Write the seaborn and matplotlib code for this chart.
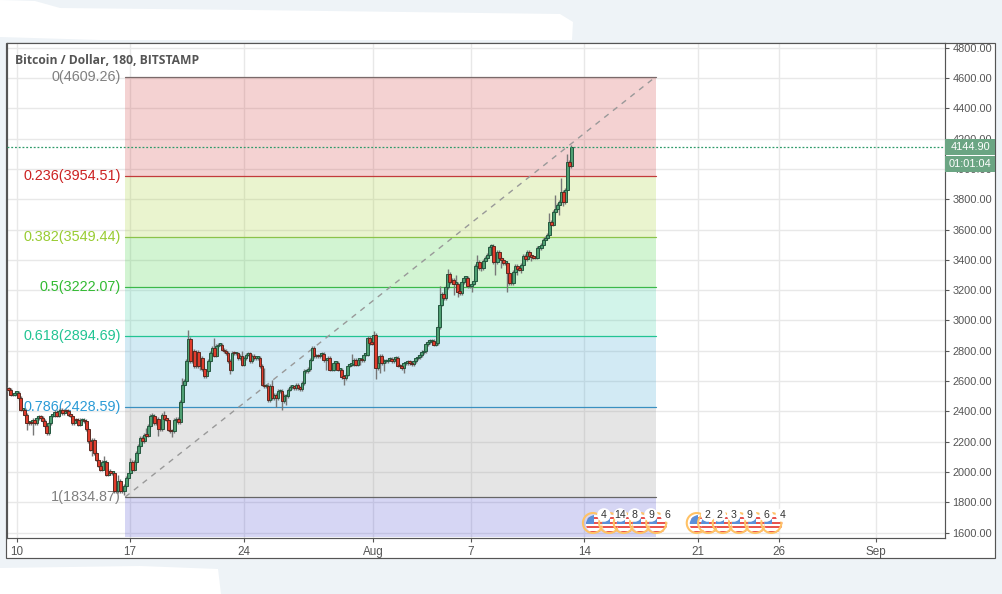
import matplotlib
matplotlib.use("Agg")
import matplotlib.pyplot as plt
from matplotlib.patches import Circle, Polygon, Rectangle
import pandas as pd
import seaborn as sns

# closes of the 3h candles
closes = [
    2544, 2548, 2544, 2511, 2511, 2522, 2522, 2489, 2412, 2412, 2379, 2324, 2324, 2320, 2346, 2320, 2357, 2361, 2357, 2335,
    2302, 2258, 2324, 2372, 2372, 2394, 2372, 2401, 2412, 2390, 2405, 2401, 2379, 2372, 2324, 2346, 2342, 2313, 2342, 2346,
    2335, 2284, 2203, 2148, 2214, 2126, 2082, 2042, 2016, 2064, 2064, 1983, 2005, 1994, 1994, 1873, 1873, 1939, 1873, 1873,
    1906, 1961, 1994, 2064, 2016, 2064, 2126, 2170, 2225, 2203, 2247, 2240, 2302, 2368, 2368, 2324, 2350, 2284, 2284, 2379,
    2350, 2346, 2280, 2269, 2269, 2342, 2350, 2328, 2460, 2577, 2599, 2731, 2878, 2731, 2797, 2698, 2790, 2698, 2753, 2680,
    2632, 2665, 2731, 2786, 2819, 2768, 2830, 2841, 2841, 2808, 2797, 2786, 2731, 2676, 2786, 2782, 2782, 2753, 2764, 2709,
    2753, 2775, 2782, 2731, 2764, 2753, 2753, 2753, 2698, 2577, 2566, 2566, 2474, 2566, 2489, 2511, 2489, 2533, 2533, 2467,
    2500, 2500, 2544, 2562, 2562, 2555, 2577,
    2555, 2548, 2588, 2665, 2665, 2680, 2742, 2819, 2764, 2768, 2764, 2775, 2779, 2737, 2737, 2753, 2676, 2676, 2720, 2720,
    2676, 2676, 2627, 2621, 2643, 2702, 2709, 2713, 2742, 2709, 2742, 2742, 2737, 2775, 2775, 2885, 2852, 2847, 2907, 2687,
    2720, 2764, 2720, 2731, 2731, 2742, 2746, 2731, 2746, 2753, 2702, 2698, 2687, 2716, 2720, 2724, 2720,
    2710, 2730, 2750, 2760, 2770, 2790, 2800,
    2845, 2858, 2863, 2863, 2841, 2852, 2957, 3105, 3177, 3149, 3221, 3307, 3252, 3270, 3243, 3243, 3188, 3182, 3254, 3281,
    3281, 3226, 3226, 3243, 3259, 3362, 3389, 3347, 3347, 3395, 3413, 3435, 3485, 3490, 3384, 3384, 3452, 3413, 3397, 3380,
    3380, 3314, 3248, 3248, 3318, 3362, 3340, 3336, 3369, 3428, 3406, 3452, 3424, 3419, 3415, 3415, 3479, 3479, 3501, 3534,
    3545, 3567, 3650, 3633, 3716, 3736, 3765, 3782, 3848, 3780, 3864, 4046, 4018, 4144.9,
]
first_open = 2540

# wicks that stick out visibly (candle number: price)
long_highs = {50: 2104, 57: 1983, 62: 1994, 63: 2093, 66: 2137, 71: 2291, 74: 2390, 80: 2401, 89: 2621, 92: 2940,
              105: 2885, 119: 2797, 130: 2687, 134: 2610, 174: 2781, 185: 2929, 218: 3226, 222: 3340, 226: 3303,
              231: 3296, 237: 3435, 243: 3490, 273: 3710, 276: 3826, 279: 3941, 282: 4101}
long_lows = {11: 2280, 14: 2247, 21: 2247, 44: 2104, 52: 1972, 60: 1851, 77: 2236, 84: 2232, 96: 2687, 98: 2676,
             100: 2621, 113: 2647, 136: 2430, 139: 2408, 141: 2445, 161: 2671, 165: 2665, 170: 2577, 178: 2709,
             186: 2614, 188: 2654, 190: 2665, 200: 2654, 225: 3171, 227: 3153, 234: 3188, 239: 3329, 246: 3303,
             249: 3347, 252: 3186, 257: 3298, 259: 3314, 264: 3391, 278: 3699, 280: 3754, 282: 3963}

fib_labels = ["0", "0.236", "0.382", "0.5", "0.618", "0.786", "1"]
fib_prices = [4609.26, 3954.51, 3549.44, 3222.07, 2894.69, 2428.59, 1834.87]
fib_colors = ["#808080", "#cc2222", "#99cc33", "#33bb33", "#22c493", "#2b9bd6", "#808080"]
fib_line_colors = ["#7a6a6a", "#c23b3b", "#8bc34a", "#3cb84a", "#22c493", "#3a90c0", "#666666"]
band_colors = ["#cc2222", "#99cc11", "#22cc22", "#22cc99", "#2299cc", "#808080", "#3333cc"]

tick_days = [10, 17, 24, 32, 38, 45, 52, 57, 63]
tick_labels = ["10", "17", "24", "Aug", "7", "14", "21", "26", "Sep"]
price_ticks = list(range(1600, 4801, 200))

event_days_1 = [45.6, 46.6, 47.5, 48.5, 49.5]
event_counts_1 = ["4", "14", "8", "9", "6"]
event_days_2 = [52.0, 52.7, 53.6, 54.6, 55.6, 56.6]
event_counts_2 = ["2", "2", "3", "9", "6", "4"]

last_price = 4144.90
countdown = "01:01:04"

# pixel helpers for the screenshot layout
W, H = 1002, 594
PX_PER_DAY = 16.22
def day_to_px(d):
    return 16.5 + (d - 10) * PX_PER_DAY

sns.set_theme(style="white")
plt.rcParams["font.family"] = ["Liberation Sans", "DejaVu Sans"]

fig = plt.figure(figsize=(W / 100, H / 100), dpi=100, facecolor="#eef3f7")

# the white scraps around the screenshot
back = fig.add_axes([0, 0, 1, 1], zorder=0)
back.set_xlim(0, W)
back.set_ylim(H, 0)
back.axis("off")
back.add_patch(Polygon([(0, 0), (35, 1), (60, 8), (250, 10), (560, 14), (573, 22), (572, 40), (100, 40), (0, 37)],
                       fc="white", ec="none"))
back.add_patch(Polygon([(0, 568), (140, 566), (218, 569), (221, 594), (0, 594)], fc="white", ec="none"))
back.add_patch(Rectangle((6.5, 43), 988.5, 515, fc="white", ec="#555555", lw=0.85))

ax = fig.add_axes([6.5 / W, (H - 538) / H, 938.5 / W, 495 / H], zorder=1)
ax.set_facecolor("white")
ax.set_xlim(9.383, 67.24)
ax.set_ylim(1564.3, 4831)
ax.grid(True, color="#e8e8e8", lw=1.0, zorder=0)
ax.set_axisbelow(True)
for s in ax.spines.values():
    s.set_color("#555555")
    s.set_linewidth(0.85)

ax.set_xticks(tick_days)
ax.set_xticklabels(tick_labels, fontsize=8.4, color="#555555")
ax.set_yticks(price_ticks)
ax.set_yticklabels([f"{p:.2f}" for p in price_ticks], fontsize=7.9, color="#555555")
ax.yaxis.tick_right()
ax.tick_params(axis="both", length=3, width=0.8, color="#555555", pad=2.5, bottom=True, right=True, left=False)

# fibonacci bands and levels
fib_left, fib_right = 16.7, 49.42
band_edges = fib_prices + [1573]
for i, col in enumerate(band_colors):
    ax.fill_between([fib_left, fib_right], band_edges[i + 1], band_edges[i], color=col, alpha=0.2, lw=0, zorder=1)
for lab, p, c, lc in zip(fib_labels, fib_prices, fib_colors, fib_line_colors):
    ax.plot([fib_left, fib_right], [p, p], color=lc, lw=0.9, zorder=2)
    ax.text(fib_left - 0.25, p, f"{lab}({p:.2f})", color=c, fontsize=10.4, ha="right", va="center", zorder=2)

trend = pd.DataFrame({"day": [fib_left, fib_right], "price": [fib_prices[6], fib_prices[0]]})
sns.lineplot(data=trend, x="day", y="price", ax=ax, color="#999999", lw=1, linestyle=(0, (4, 4)), zorder=2)
ax.set_xlabel("")
ax.set_ylabel("")

# candles
n = len(closes)
step = 0.123
last_day = 44.2
opens = [first_open] + closes[:-1]
df = pd.DataFrame({"open": opens, "close": closes})
df["day"] = [last_day - (n - 1 - i) * step for i in range(n)]
df["top"] = df[["open", "close"]].max(axis=1)
df["bot"] = df[["open", "close"]].min(axis=1)
df["high"] = [long_highs.get(i, t + 12) for i, t in enumerate(df["top"])]
df["low"] = [long_lows.get(i, b - 12) for i, b in enumerate(df["bot"])]
up = df["close"] >= df["open"]
ax.vlines(df["day"], df["low"], df["high"], color="#777777", lw=1, zorder=3)
for mask, fill, edge in [(up, "#4f9f72", "#24573f"), (~up, "#e03c2c", "#5c2a22")]:
    sub = df[mask]
    ax.bar(sub["day"], (sub["top"] - sub["bot"]).clip(lower=10), bottom=sub["bot"], width=0.17,
           color=fill, edgecolor=edge, lw=0.7, zorder=4)

# last price line
ax.axhline(last_price, color="#2e9b6a", lw=0.9, linestyle=(0, (1.5, 1.5)), zorder=5)

ax.text(15, 60, "Bitcoin / Dollar, 180, BITSTAMP", transform=back.transData, family=["Open Sans", "DejaVu Sans"],
        fontweight="bold", fontsize=8.7, color="#555555", va="center", zorder=6)

# overlay for the price tags and event icons
over = fig.add_axes([0, 0, 1, 1], zorder=2)
over.set_xlim(0, W)
over.set_ylim(H, 0)
over.axis("off")
over.patch.set_alpha(0)
over.add_patch(Rectangle((945.5, 139), 49.5, 16, fc="#6ba583", ec="none"))
over.add_patch(Rectangle((945.5, 156), 49.5, 16, fc="#6ba583", ec="none"))
over.text(971, 147, f"{last_price:.2f}", color="white", fontsize=7.9, ha="center", va="center")
over.text(970, 164, countdown, color="white", fontsize=7.9, ha="center", va="center")

def draw_event(px, count):
    cy = 523
    ring = Circle((px - 1, cy), 10, fc="none", ec="#ffc266", lw=1.5, zorder=3)
    fx, fy = px + 1, cy + 1
    face = Circle((fx, fy), 9, fc="white", ec="none", zorder=3)
    over.add_patch(face)
    clip = Circle((fx, fy), 9, transform=over.transData)
    for k, oy in enumerate([-7, -2.5, 2, 6.5]):
        st = Rectangle((fx - 10, fy + oy), 20, 2.4, fc="#e8534f", ec="none", zorder=3)
        over.add_patch(st)
        st.set_clip_path(clip)
    can = Rectangle((fx - 9, fy - 9), 8, 9, fc="#5b8fd9", ec="none", zorder=3)
    over.add_patch(can)
    can.set_clip_path(clip)
    over.add_patch(ring)
    over.add_patch(Circle((px + 10, cy - 8), 6.8, fc="white", ec="none", zorder=4))
    over.text(px + 10, cy - 8, count, color="#333333", fontsize=7.6, ha="center", va="center", zorder=5)

for days, counts in [(event_days_1, event_counts_1), (event_days_2, event_counts_2)]:
    for d, c in zip(days, counts):
        draw_event(day_to_px(d), c)

fig.savefig("out.png", dpi=100, facecolor=fig.get_facecolor())
